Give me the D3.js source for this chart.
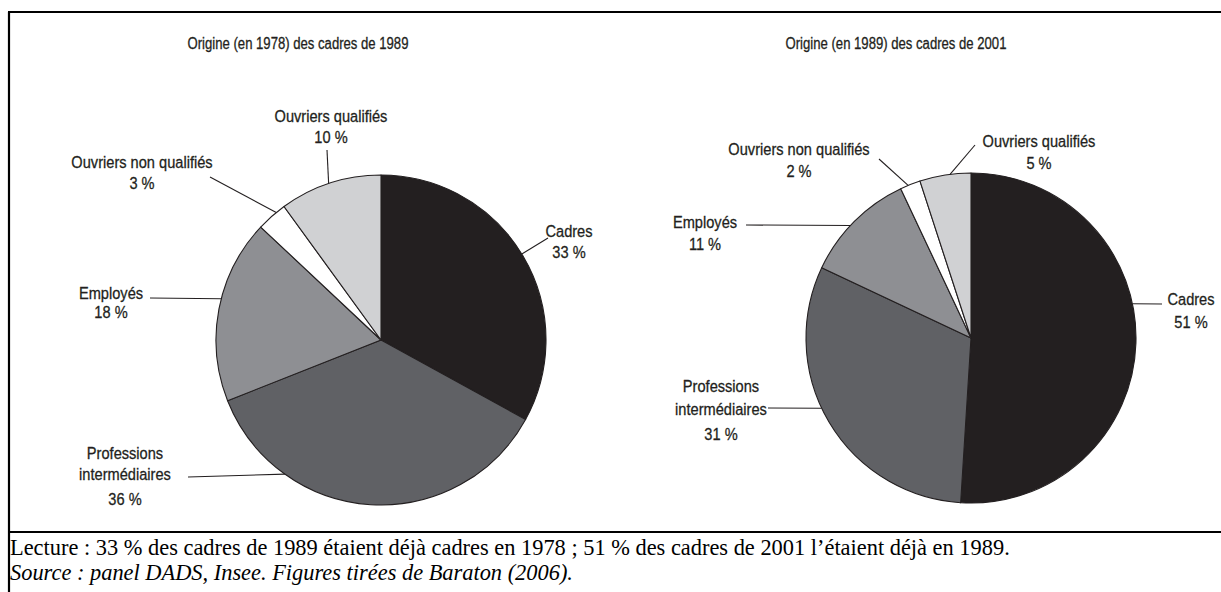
<!DOCTYPE html>
<html>
<head>
<meta charset="utf-8">
<script src="https://cdn.jsdelivr.net/npm/d3@7"></script>
<style>
  body { margin: 0; background: #fff; }
  svg { display: block; }
  .lbl { font-family: "Liberation Sans", Arial, sans-serif; font-size: 17px; fill: #231f20; stroke: #231f20; stroke-width: 0.3; }
  .ttl { font-family: "Liberation Sans", Arial, sans-serif; font-size: 16px; fill: #231f20; stroke: #231f20; stroke-width: 0.3; }
  .note { font-family: "Liberation Serif", "Times New Roman", serif; font-size: 22.4px; fill: #000; }
</style>
</head>
<body>
<svg id="viewport"></svg>
<script>
// data
const categories = ["Cadres", "Professions intermédiaires", "Employés", "Ouvriers non qualifiés", "Ouvriers qualifiés"];
const labelLines = [["Cadres"], ["Professions", "intermédiaires"], ["Employés"], ["Ouvriers non qualifiés"], ["Ouvriers qualifiés"]];
const values1989 = [33, 36, 18, 3, 10]; // origine en 1978 des cadres de 1989
const values2001 = [51, 31, 11, 2, 5];  // origine en 1989 des cadres de 2001
const titles = ["Origine (en 1978) des cadres de 1989", "Origine (en 1989) des cadres de 2001"];
const notes = [
  "Lecture : 33 % des cadres de 1989 étaient déjà cadres en 1978 ; 51 % des cadres de 2001 l’étaient déjà en 1989.",
  "Source : panel DADS, Insee. Figures tirées de Baraton (2006)."
];

const W = 1221, H = 592;
const NARROW = 0.86; // condensed look for the sans labels
const fills = d3.scaleOrdinal().domain(categories)
  .range(["#231f20", "#606165", "#8e8f93", "#ffffff", "#d0d1d3"]);

// label placement (per category, same order as categories)
// x,y = first baseline, lead = [x0, y0, angle in degrees where the line meets the pie]
const charts = [
  {
    values: values1989, title: titles[0], cx: 381, cy: 340, r: 165, tx: 298, ty: 49, lh: 21,
    labels: [
      { x: 569, y: 237, lead: [548, 238, 58.6] },
      { x: 125, y: 459, lh: [21, 25], lead: [188, 477, 215.6] },
      { x: 111, y: 299, lh: [19], lead: [150, 298, 284.5] },
      { x: 142, y: 168, lead: [210, 177, 320.6] },
      { x: 331, y: 122, lead: [327, 150, 341.5] }
    ]
  },
  {
    values: values2001, title: titles[1], cx: 971, cy: 338, r: 165, tx: 896, ty: 49, lh: 22,
    labels: [
      { x: 1191, y: 305, lh: [23], lead: [1162, 304, 78] },
      { x: 721, y: 392, lh: [23, 25], lead: [768, 408, 244.8] },
      { x: 705, y: 228, lead: [746, 225, 313] },
      { x: 799, y: 155, lead: [879, 159, 337.6] },
      { x: 1039, y: 147, lead: [975, 145, 352.7] }
    ]
  }
];

const svg = d3.select("#viewport").attr("width", W).attr("height", H);
svg.append("rect").attr("width", W).attr("height", H).attr("fill", "#fff");

// frame
const frame = svg.append("g").attr("stroke", "#000").attr("stroke-width", 2.2);
frame.append("line").attr("x1", 8).attr("x2", W).attr("y1", 12).attr("y2", 12);
frame.append("line").attr("x1", 9).attr("x2", 9).attr("y1", 12).attr("y2", H);
frame.append("line").attr("x1", 8).attr("x2", W).attr("y1", 532).attr("y2", 532);

const pie = d3.pie().sort(null).value((d) => d);

charts.forEach((c) => {
  const g = svg.append("g");
  const arc = d3.arc().innerRadius(0).outerRadius(c.r);
  const arcs = pie(c.values);

  g.append("text").attr("class", "ttl")
    .attr("transform", `translate(${c.tx},${c.ty}) scale(0.82,1)`)
    .attr("text-anchor", "middle")
    .text(c.title);

  g.append("g").attr("transform", `translate(${c.cx},${c.cy})`)
    .selectAll("path")
    .data(arcs)
    .enter()
    .append("path")
    .attr("d", arc)
    .attr("fill", (d, i) => fills(categories[i]))
    .attr("stroke", "#231f20")
    .attr("stroke-width", 1.1)
    .attr("stroke-linejoin", "round");

  // leader lines
  g.selectAll(".leader")
    .data(c.labels)
    .enter()
    .append("line")
    .attr("class", "leader")
    .attr("stroke", "#231f20")
    .attr("stroke-width", 1.1)
    .attr("x1", (d) => d.lead[0])
    .attr("y1", (d) => d.lead[1])
    .attr("x2", (d) => c.cx + c.r * Math.sin((d.lead[2] * Math.PI) / 180))
    .attr("y2", (d) => c.cy - c.r * Math.cos((d.lead[2] * Math.PI) / 180));

  // labels
  c.labels.forEach((l, i) => {
    const lines = [...labelLines[i], `${c.values[i]} %`];
    const t = g.append("text").attr("class", "lbl")
      .attr("text-anchor", "middle")
      .attr("transform", `translate(${l.x},${l.y}) scale(${NARROW},1)`);
    lines.forEach((s, k) => {
      const dy = k === 0 ? 0 : (l.lh ? l.lh[k - 1] : c.lh);
      t.append("tspan").attr("x", 0).attr("dy", dy).text(s);
    });
  });
});

// notes
svg.append("text").attr("class", "note").attr("x", 10).attr("y", 555).text(notes[0]);
svg.append("text").attr("class", "note").attr("x", 10).attr("y", 580)
  .attr("font-style", "italic").text(notes[1]);
</script>
</body>
</html>
